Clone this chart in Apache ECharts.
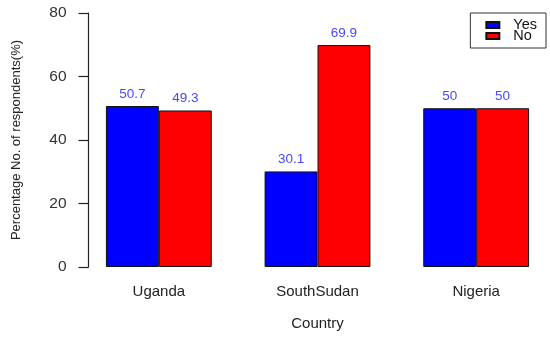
<!DOCTYPE html>
<html>
<head>
<meta charset="utf-8">
<script src="https://cdn.jsdelivr.net/npm/echarts@6/dist/echarts.min.js"></script>
<style>html,body{margin:0;padding:0;background:#fff}#c{width:550px;height:337px}</style>
</head>
<body>
<div id="c"></div>
<script>
var categories = ['Uganda', 'SouthSudan', 'Nigeria'];
var yesValues = [50.7, 30.1, 50];
var noValues = [49.3, 69.9, 50];
var yTicks = [0, 20, 40, 60, 80];

var chart = echarts.init(document.getElementById('c'), null, {renderer: 'canvas'});
var font = '"Liberation Sans", Arial, sans-serif';
var labelStyle = {
  show: true, position: 'top', distance: 5, color: '#4848FF',
  fontSize: 13.5, fontFamily: font
};
chart.setOption({
  animation: false,
  backgroundColor: '#fff',
  textStyle: {fontFamily: font},
  grid: {left: 79.5, top: 13, width: 476, height: 254, containLabel: false, outerBoundsMode: 'none'},
  legend: {
    data: ['Yes', 'No'], orient: 'vertical', right: 4, top: 13,
    itemWidth: 13, itemHeight: 6, itemGap: -4, icon: 'rect',
    padding: [4.5, 9, 4.5, 15],
    borderColor: '#333', borderWidth: 1,
    textStyle: {fontSize: 14.5, color: '#111', lineHeight: 11, fontFamily: font, padding: [0, 0, 0, 9]}
  },
  xAxis: {
    type: 'category', data: categories,
    axisLine: {show: false}, axisTick: {show: false},
    axisLabel: {fontSize: 15, color: '#222', margin: 17, fontFamily: font},
    name: 'Country', nameLocation: 'middle', nameGap: 49,
    nameTextStyle: {fontSize: 15, color: '#222', fontFamily: font}
  },
  yAxis: {
    type: 'value', min: yTicks[0], max: yTicks[yTicks.length - 1], interval: 20,
    offset: -9,
    axisLine: {show: true, lineStyle: {color: '#222', width: 1.2}},
    axisTick: {show: true, length: 10, lineStyle: {color: '#222', width: 1.2}},
    splitLine: {show: false},
    axisLabel: {fontSize: 15.5, color: '#333', margin: 22, fontFamily: font},
    name: 'Percentage No. of respondents(%)', nameLocation: 'middle', nameGap: 66,
    nameTextStyle: {fontSize: 13, color: '#222', fontFamily: font}
  },
  series: [
    {name: 'Yes', type: 'bar', data: yesValues, barGap: '0%', barCategoryGap: '33.3%',
     itemStyle: {color: '#0000FF', borderColor: '#111', borderWidth: 1}, label: labelStyle},
    {name: 'No', type: 'bar', data: noValues, barGap: '0%', barCategoryGap: '33.3%',
     itemStyle: {color: '#FF0000', borderColor: '#111', borderWidth: 1}, label: labelStyle}
  ]
});
</script>
</body>
</html>
